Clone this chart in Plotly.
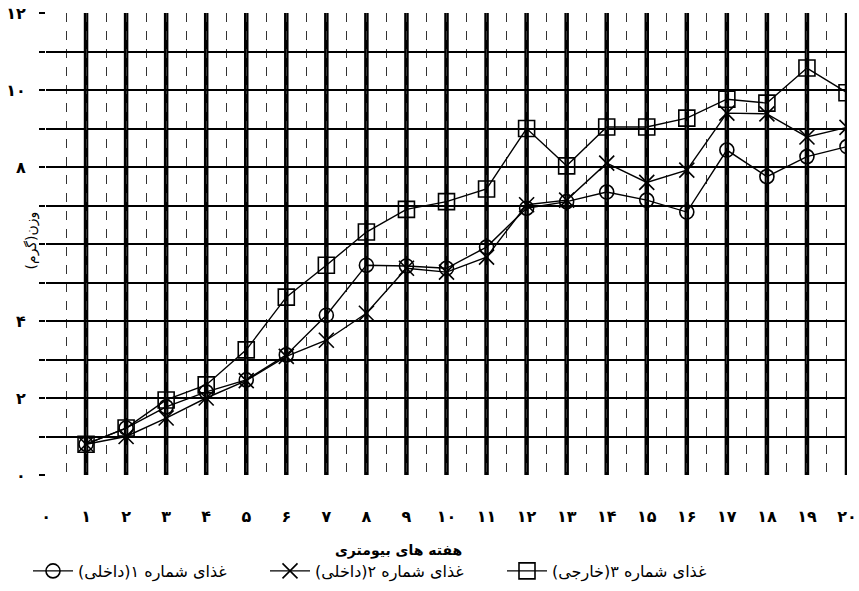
import plotly.graph_objects as go

weeks = list(range(1, 21))
food1_domestic = [0.8, 1.22, 1.77, 2.16, 2.47, 3.12, 4.15, 5.45, 5.43, 5.37, 5.92, 6.93, 7.1, 7.35, 7.14, 6.83, 8.44, 7.75, 8.27, 8.53]
food2_domestic = [0.8, 1.0, 1.48, 2.0, 2.45, 3.08, 3.5, 4.2, 5.37, 5.27, 5.66, 7.02, 7.14, 8.1, 7.6, 7.92, 9.4, 9.38, 8.78, 9.03]
food3_foreign = [0.8, 1.22, 1.95, 2.34, 3.25, 4.62, 5.45, 6.31, 6.9, 7.1, 7.43, 9.0, 8.03, 9.04, 9.04, 9.27, 9.76, 9.66, 10.57, 9.93]

series_names = ["غذای شماره ۱(داخلی)\u200f", "غذای شماره ۲(داخلی)\u200f", "غذای شماره ۳(خارجی)\u200f"]
x_tickvals = list(range(0, 21))
x_ticktext = ["۰", "۱", "۲", "۳", "۴", "۵", "۶", "۷", "۸", "۹", "۱۰", "۱۱", "۱۲", "۱۳", "۱۴", "۱۵", "۱۶", "۱۷", "۱۸", "۱۹", "۲۰"]
y_tickvals = [0, 2, 4, 6, 8, 10, 12]
y_ticktext = ["۰", "۲", "۴", "", "۸", "۱۰", "۱۲"]
x_title = "هفته های بیومتری"
y_title = "وزن(گرم)"

FONT = "DejaVu Sans"
W, H = 859, 591

fig = go.Figure()
styles = [
    dict(symbol="circle-open", size=14),
    dict(symbol="x-thin-open", size=15),
    dict(symbol="square-open", size=16),
]
for name, vals, st in zip(series_names, [food1_domestic, food2_domestic, food3_foreign], styles):
    fig.add_trace(go.Scatter(
        x=weeks, y=vals, name=name, mode="lines+markers",
        line=dict(color="black", width=1.4),
        marker=dict(symbol=st["symbol"], size=st["size"], color="black",
                    line=dict(color="black", width=1.6)),
    ))

# thick vertical grid lines at each week
for w in weeks:
    fig.add_vline(x=w, line=dict(color="black", width=4.5), layer="below")

fig.update_layout(
    width=W, height=H,
    margin=dict(l=46, r=12, t=13, b=116),
    paper_bgcolor="white", plot_bgcolor="white",
    font=dict(family=FONT, color="black"),
    showlegend=True,
    legend=dict(orientation="h", xref="container", yref="container",
                x=28 / W, y=1 - 554 / H, xanchor="left", yanchor="top",
                font=dict(family=FONT, size=16, color="black"),
                itemwidth=40, entrywidth=182, bgcolor="rgba(0,0,0,0)"),
    xaxis=dict(range=[0, 20], tickmode="array", tickvals=x_tickvals, ticktext=x_ticktext,
               automargin=False, ticklabeloverflow="allow",
               showgrid=True, gridcolor="#333", gridwidth=1, griddash="dash",
               zeroline=False, showline=False, ticks="", ticklabelstandoff=30,
               tickfont=dict(family=FONT, size=16, weight="bold"),
               minor=dict(tickvals=[i + 0.5 for i in range(20)], showgrid=True,
                          gridcolor="#333", gridwidth=1, griddash="dash")),
    yaxis=dict(range=[0, 12], tickmode="array", tickvals=y_tickvals, ticktext=y_ticktext,
               automargin=False, ticklabeloverflow="allow",
               showgrid=True, gridcolor="black", gridwidth=2,
               zeroline=False, showline=False, ticks="outside", ticklen=6, tickwidth=2,
               tickcolor="black", ticklabelstandoff=10,
               tickfont=dict(family=FONT, size=16, weight="bold"),
               minor=dict(dtick=1, showgrid=True, gridcolor="black", gridwidth=2,
                          ticks="outside", ticklen=6, tickwidth=2, tickcolor="black")),
)

fig.add_annotation(text=x_title, xref="paper", yref="paper", x=0.44, y=(475 - 550) / 462,
                   yanchor="middle", showarrow=False, font=dict(family=FONT, size=14, weight="bold"))
fig.add_annotation(text=y_title, xref="paper", yref="paper", x=(20 - 46) / 801, y=(475 - 241) / 462,
                   textangle=-90, showarrow=False, font=dict(family=FONT, size=14))

fig.write_html("out.html", config={"displayModeBar": False},
               post_script="document.body.style.margin='0';")
